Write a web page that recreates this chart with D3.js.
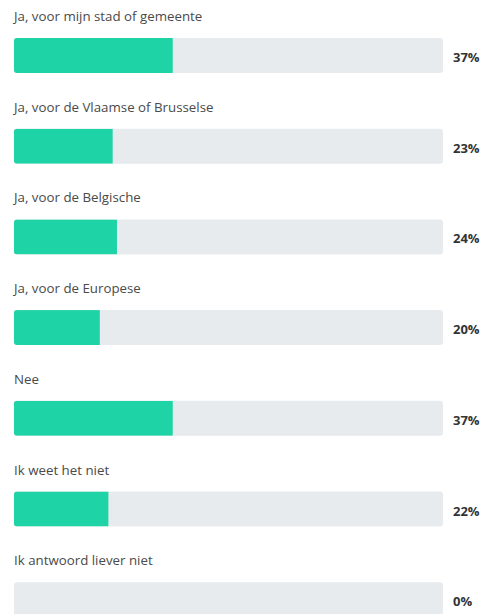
<!DOCTYPE html>
<html>
<head>
<meta charset="utf-8">
<script src="https://cdn.jsdelivr.net/npm/d3@7"></script>
<style>
  body { margin: 0; background: #fff; }
  svg { display: block; }
</style>
</head>
<body>
<script>
// answers and shares (%)
var categories = [
  "Ja, voor mijn stad of gemeente",
  "Ja, voor de Vlaamse of Brusselse",
  "Ja, voor de Belgische",
  "Ja, voor de Europese",
  "Nee",
  "Ik weet het niet",
  "Ik antwoord liever niet"
];
var values = [37, 23, 24, 20, 37, 22, 0];

var width = 488, height = 614;
var trackLeft = 14, trackRight = 443, barH = 35, rowStep = 90.7, firstTop = 38;

var svg = d3.select("body").append("svg")
  .attr("width", width)
  .attr("height", height);

var x = d3.scaleLinear()
  .domain([0, 100])
  .range([trackLeft, trackRight]);

var y = d3.scaleBand()
  .domain(categories)
  .range([firstTop, firstTop + (categories.length - 1) * rowStep + barH])
  .paddingInner(1 - barH / rowStep)
  .paddingOuter(0);

var rows = svg.selectAll(".row")
  .data(categories)
  .enter().append("g")
  .attr("class", "row");

// clip so the green fill gets rounded left corners only
rows.append("clipPath")
  .attr("id", (d, i) => "clip" + i)
  .append("rect")
  .attr("x", x(0))
  .attr("y", d => y(d))
  .attr("width", x(100) - x(0))
  .attr("height", y.bandwidth())
  .attr("rx", 3);

rows.append("rect")
  .attr("x", x(0))
  .attr("y", d => y(d))
  .attr("width", x(100) - x(0))
  .attr("height", y.bandwidth())
  .attr("rx", 3)
  .style("fill", "#e8ebee");

rows.append("rect")
  .attr("clip-path", (d, i) => "url(#clip" + i + ")")
  .attr("x", x(0))
  .attr("y", d => y(d))
  .attr("width", (d, i) => x(values[i]) - x(0))
  .attr("height", y.bandwidth())
  .style("fill", "#1ed3a5");

rows.append("text")
  .attr("x", trackLeft)
  .attr("y", d => y(d) - 17)
  .style("font-family", "'Open Sans', 'Noto Sans', sans-serif")
  .style("font-size", "13.3px")
  .style("fill", "#4a4a4a")
  .text(d => d);

rows.append("text")
  .attr("x", trackRight + 10)
  .attr("y", d => y(d) + 24)
  .style("font-family", "'Open Sans', 'Noto Sans', sans-serif")
  .style("font-size", "13px")
  .style("font-weight", "bold")
  .style("fill", "#333")
  .text((d, i) => values[i] + "%");
</script>
</body>
</html>
